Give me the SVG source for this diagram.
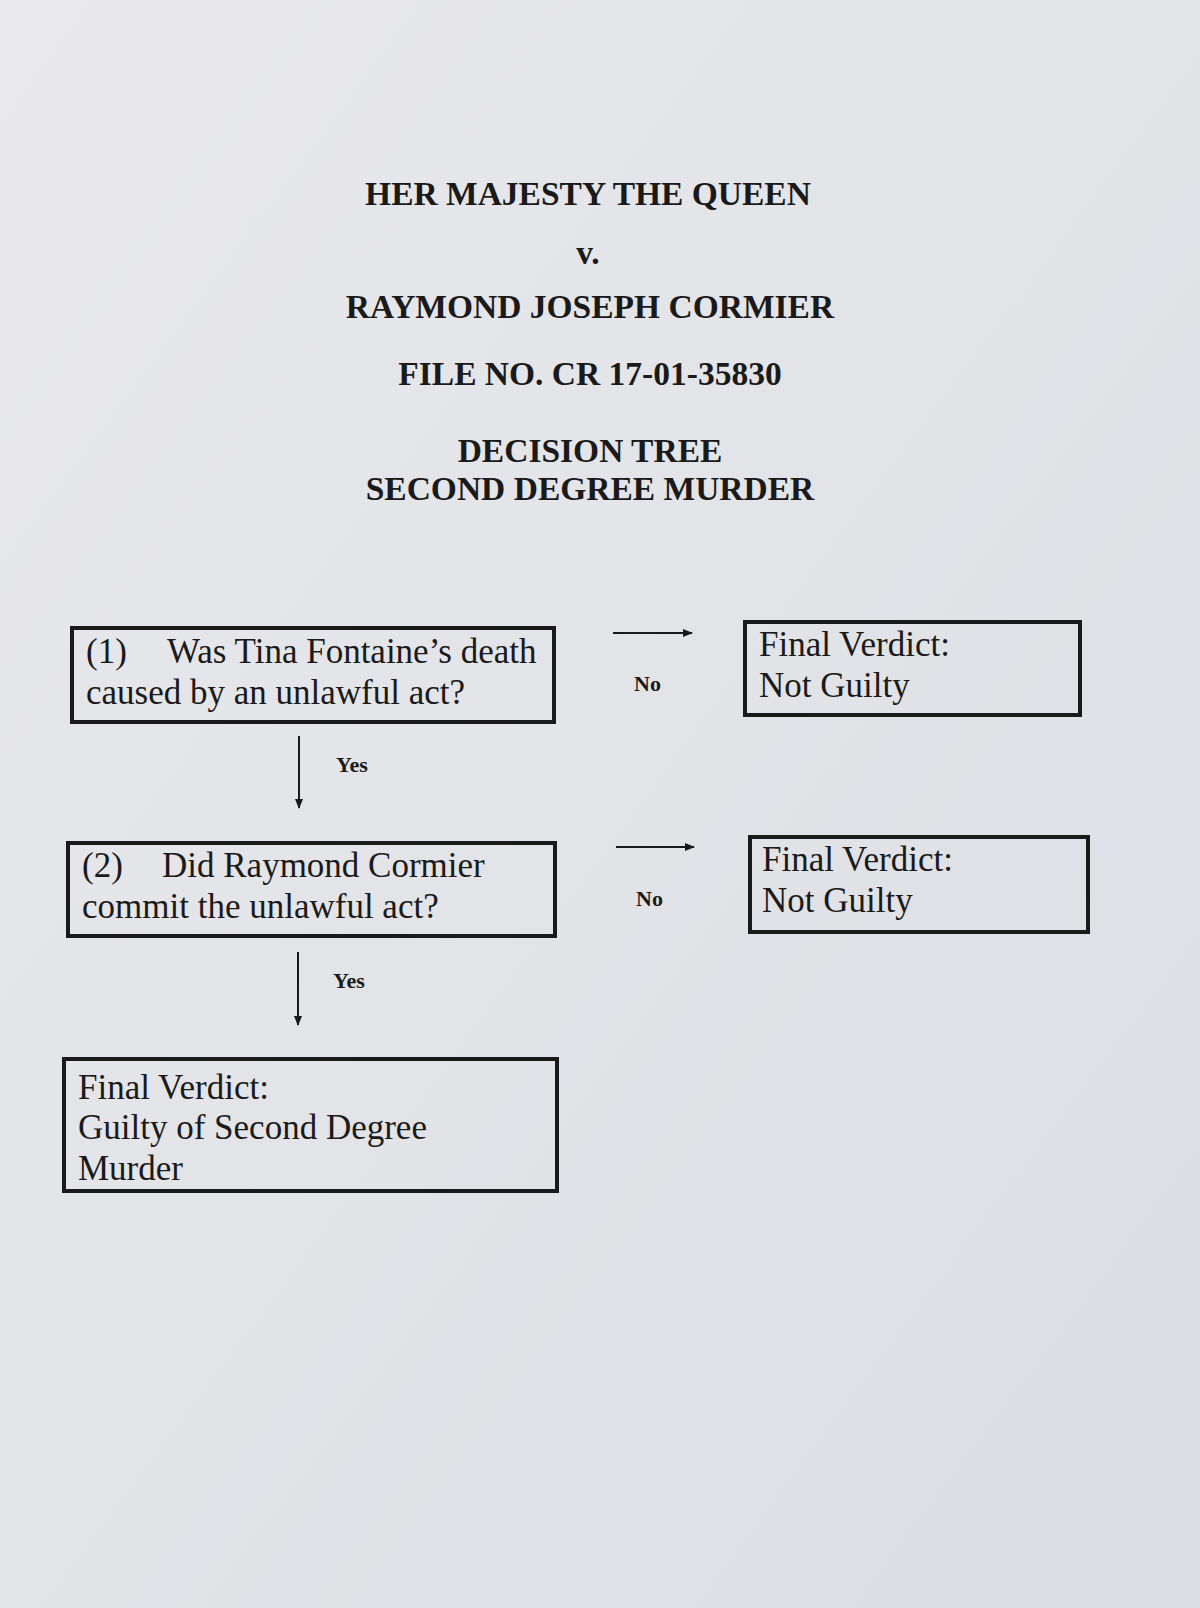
<svg xmlns="http://www.w3.org/2000/svg" width="1200" height="1608" viewBox="0 0 1200 1608">
<style>
.h{font-family:"Liberation Serif",serif;font-weight:bold;font-size:33.5px;fill:#1a1a1a;text-anchor:middle}
.t{font-family:"Liberation Serif",serif;font-size:35px;fill:#1a1a1a}
.l{font-family:"Liberation Serif",serif;font-weight:bold;font-size:22px;fill:#1a1a1a}
.b{fill:none;stroke:#1a1a1a;stroke-width:4}
.c{stroke:#1a1a1a;stroke-width:2;fill:none;marker-end:url(#a)}
</style>
<defs>
<linearGradient id="bg" x1="0" y1="0" x2="1" y2="1"><stop offset="0" stop-color="#e9e9ec"/><stop offset="1" stop-color="#dcdee3"/></linearGradient>
<marker id="a" markerWidth="10" markerHeight="8" refX="9" refY="4" orient="auto" markerUnits="userSpaceOnUse"><path d="M0,0L10,4L0,8z" fill="#1a1a1a"/></marker>
</defs>
<rect width="1200" height="1608" fill="url(#bg)"/>
<g id="title">
<text class="h" x="588" y="205">HER MAJESTY THE QUEEN</text>
<text class="h" x="588" y="264" font-size="26">v.</text>
<text class="h" x="590" y="318">RAYMOND JOSEPH CORMIER</text>
<text class="h" x="590" y="385">FILE NO. CR 17-01-35830</text>
<text class="h" x="590" y="462">DECISION TREE</text>
<text class="h" x="590" y="500">SECOND DEGREE MURDER</text>
</g>
<g id="q1"><rect class="b" x="72" y="628" width="482" height="94"/>
<text class="t" x="86" y="663">(1)</text><text class="t" x="167" y="663">Was Tina Fontaine’s death</text>
<text class="t" x="86" y="704">caused by an unlawful act?</text></g>
<g id="v1"><rect class="b" x="745" y="622" width="335" height="93"/>
<text class="t" x="759" y="656">Final Verdict:</text>
<text class="t" x="759" y="697">Not Guilty</text></g>
<g id="q2"><rect class="b" x="68" y="843" width="487" height="93"/>
<text class="t" x="82" y="877">(2)</text><text class="t" x="162" y="877">Did Raymond Cormier</text>
<text class="t" x="82" y="918">commit the unlawful act?</text></g>
<g id="v2"><rect class="b" x="750" y="837" width="338" height="95"/>
<text class="t" x="762" y="871">Final Verdict:</text>
<text class="t" x="762" y="912">Not Guilty</text></g>
<g id="v3"><rect class="b" x="64" y="1059" width="493" height="132"/>
<text class="t" x="78" y="1099">Final Verdict:</text>
<text class="t" x="78" y="1139">Guilty of Second Degree</text>
<text class="t" x="78" y="1180">Murder</text></g>
<g id="connectors">
<line class="c" x1="613" y1="633" x2="692" y2="633"/>
<text class="l" x="634" y="691">No</text>
<line class="c" x1="299" y1="736" x2="299" y2="808"/>
<text class="l" x="336" y="772">Yes</text>
<line class="c" x1="616" y1="847" x2="694" y2="847"/>
<text class="l" x="636" y="906">No</text>
<line class="c" x1="298" y1="952" x2="298" y2="1025"/>
<text class="l" x="333" y="988">Yes</text>
</g>
</svg>
